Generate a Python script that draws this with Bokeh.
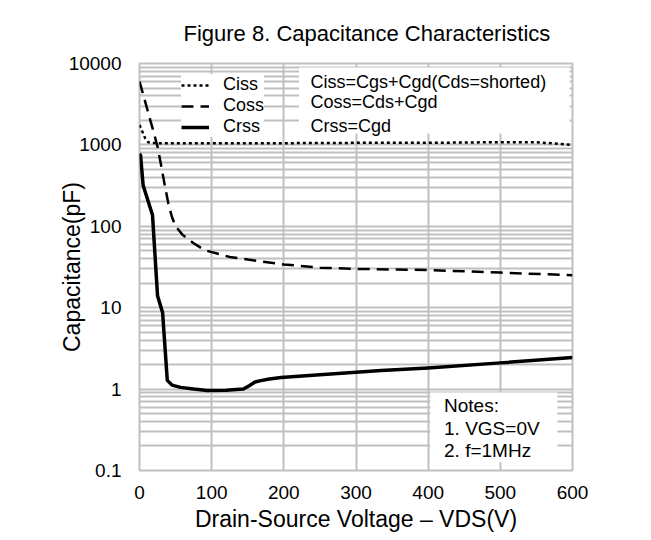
from bokeh.plotting import figure
from bokeh.models import (Range1d, FixedTicker, Legend, LegendItem, Label,
                          BoxAnnotation)
from bokeh.embed import file_html
from bokeh.resources import INLINE

# ---------------- data ----------------
vds_ciss = [0, 4, 8, 12, 16, 25, 50, 100, 200, 300, 400, 500, 550, 600]
ciss = [1750, 1450, 1200, 1080, 1060, 1050, 1050, 1050, 1050, 1060, 1060, 1080, 1080, 1000]

vds_coss = [0, 5, 10, 15, 20, 25, 30, 35, 40, 45, 50, 60, 75, 90, 125, 150, 200,
            250, 300, 400, 500, 600]
coss = [6000, 4200, 2900, 2000, 1400, 950, 560, 320, 190, 130, 100, 78, 62, 51,
        42, 39, 34, 31, 30, 29, 27, 25]

vds_crss = [0, 1.5, 5, 18, 25, 32, 38.5, 45, 57, 75, 94, 120, 144, 152, 160, 168,
            180, 196, 250, 335, 400, 500, 600]
crss = [780, 740, 320, 138, 14, 8.7, 1.28, 1.12, 1.05, 1.0, 0.96, 0.97, 1.0, 1.1,
        1.22, 1.27, 1.33, 1.39, 1.5, 1.69, 1.82, 2.1, 2.45]

x_ticks = [0, 100, 200, 300, 400, 500, 600]
y_ticks = [0.1, 1, 10, 100, 1000, 10000]
y_tick_labels = ["0.1", "1", "10", "100", "1000", "10000"]
y_minor = [m * d for d in [0.1, 1, 10, 100, 1000] for m in range(2, 10)]

series_names = ["Ciss", "Coss", "Crss"]
eq_lines = ["Ciss=Cgs+Cgd(Cds=shorted)", "Coss=Cds+Cgd", "Crss=Cgd"]
note_lines = ["Notes:", "1. VGS=0V", "2. f=1MHz"]

FONT = "Liberation Sans"
GRID = "#c0c0c0"

p = figure(frame_width=433, frame_height=407, output_backend="svg",
           toolbar_location=None,
           y_axis_type="log", x_range=Range1d(0, 600), y_range=Range1d(0.1, 10000),
           min_border_left=139, min_border_right=71, min_border_top=63,
           min_border_bottom=62)

p.title.text = "Figure 8. Capacitance Characteristics"
p.title.text_font = FONT
p.title.text_font_size = "22px"
p.title.text_font_style = "normal"
p.title.text_color = "black"
p.title.align = "left"
p.title.offset = 44
p.title.standoff = 36

p.outline_line_color = GRID
p.outline_line_width = 2

p.xaxis.ticker = FixedTicker(ticks=x_ticks)
p.yaxis.ticker = FixedTicker(ticks=y_ticks, minor_ticks=y_minor)
p.yaxis.major_label_overrides = dict(zip(y_ticks, y_tick_labels))

for ax in (p.xaxis, p.yaxis):
    ax.axis_line_color = None
    ax.major_tick_line_color = None
    ax.minor_tick_line_color = None
    ax.major_label_text_font = FONT
    ax.major_label_text_font_size = "19px"
    ax.major_label_text_color = "black"
    ax.axis_label_text_font = FONT
    ax.axis_label_text_font_size = "23px"
    ax.axis_label_text_font_style = "normal"
    ax.axis_label_text_color = "black"

p.xaxis.major_label_standoff = 9
p.yaxis.major_label_standoff = 12
p.xaxis.axis_label = "Drain-Source Voltage – VDS(V)"
p.xaxis.axis_label_standoff = 4
p.yaxis.axis_label = "Capacitance(pF)"
p.yaxis.axis_label_standoff = -19

p.xgrid.grid_line_color = GRID
p.xgrid.grid_line_width = 2
p.ygrid.grid_line_color = GRID
p.ygrid.grid_line_width = 2
p.ygrid.minor_grid_line_color = GRID
p.ygrid.minor_grid_line_width = 2

r_ciss = p.line(vds_ciss, ciss, line_color="black", line_width=2.5, line_dash="3 3")
r_coss = p.line(vds_coss, coss, line_color="black", line_width=2.5, line_dash="12 7")
r_crss = p.line(vds_crss, crss, line_color="black", line_width=3.5, line_join="round")

legend = Legend(items=[LegendItem(label=n, renderers=[r]) for n, r in
                       zip(series_names, [r_ciss, r_coss, r_crss])],
                location=(42, 333), label_text_font=FONT, label_text_font_size="18px",
                label_text_color="black",
                glyph_width=28, glyph_height=20, label_height=20, label_standoff=14,
                padding=4, spacing=0, margin=0, border_line_color=None,
                background_fill_color="white", background_fill_alpha=1.0)
p.add_layout(legend)

# white boxes behind the text blocks
p.add_layout(BoxAnnotation(left=221, right=596, top=8930, bottom=1380,
                           fill_color="white", fill_alpha=1.0, line_color=None))
p.add_layout(BoxAnnotation(left=403, right=579, top=0.91, bottom=0.126,
                           fill_color="white", fill_alpha=1.0, line_color=None))

eq_y = [5850, 3320, 1730]
for t, yy in zip(eq_lines, eq_y):
    p.add_layout(Label(x=237, y=yy, text=t, text_font=FONT, text_font_size="18px",
                       text_baseline="middle", text_color="black"))

note_y = [0.63, 0.328, 0.177]
for t, yy in zip(note_lines, note_y):
    p.add_layout(Label(x=422, y=yy, text=t, text_font=FONT, text_font_size="19px",
                       text_baseline="middle", text_color="black"))

open("out.html", "w").write(file_html(p, INLINE))
